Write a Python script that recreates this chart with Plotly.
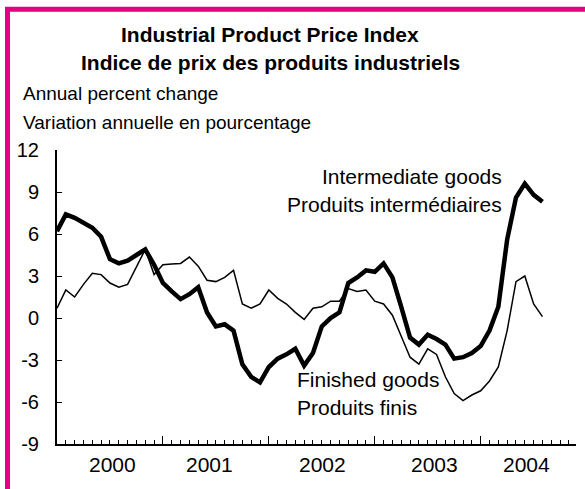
import plotly.graph_objects as go

# Monthly data, Jan 2000 (month 0) through Aug 2004 (month 55)
months = list(range(56))
intermediate = [
    6.2, 7.4, 7.15, 6.8, 6.45, 5.8, 4.2, 3.9, 4.1, 4.5,
    4.9, 3.8, 2.5, 1.9, 1.35, 1.7, 2.2, 0.4, -0.6, -0.45,
    -0.9, -3.3, -4.2, -4.6, -3.5, -2.9, -2.6, -2.2, -3.4, -2.5,
    -0.6, 0.0, 0.4, 2.5, 2.9, 3.4, 3.3, 3.9, 2.9, 0.8,
    -1.4, -1.9, -1.2, -1.5, -1.9, -2.9, -2.8, -2.5, -2.0, -0.9,
    0.8, 5.6, 8.6, 9.6, 8.8, 8.3,
]
finished = [
    0.7, 2.0, 1.5, 2.4, 3.2, 3.1, 2.5, 2.2, 2.4, 3.6,
    4.9, 3.1, 3.8, 3.85, 3.9, 4.35, 3.7, 2.7, 2.6, 2.9,
    3.4, 1.0, 0.7, 1.0, 2.0, 1.4, 1.0, 0.4, -0.1, 0.7,
    0.8, 1.2, 1.2, 2.1, 1.9, 2.0, 1.2, 1.0, 0.2, -1.3,
    -2.8, -3.3, -2.2, -2.6, -4.2, -5.4, -5.9, -5.5, -5.2, -4.5,
    -3.5, -0.9, 2.6, 3.0, 1.0, 0.1,
]
year_labels = ["2000", "2001", "2002", "2003", "2004"]
year_label_pos = [6.3, 17.3, 30.1, 42.8, 53.2]
year_bounds = [12, 24, 36, 48]
y_ticks = [-9, -6, -3, 0, 3, 6, 9, 12]
y_tick_text = ["-9", "-6", "-3", "0", "3", "6", "9", "12"]

W, H = 585, 489
L, R, T, B = 57, 9, 150, 45
PW, PH = W - L - R, H - T - B
FONT = "Liberation Sans, Arial, sans-serif"
PINK = "#E6007E"


def px(x):
    return (x - L) / PW


def py(y):
    return (H - B - y) / PH


fig = go.Figure()
fig.add_trace(go.Scatter(x=months, y=finished, mode="lines",
                         line=dict(color="black", width=1.5), showlegend=False))
fig.add_trace(go.Scatter(x=months, y=intermediate, mode="lines",
                         line=dict(color="black", width=4.5), showlegend=False))

fig.update_layout(
    width=W, height=H,
    margin=dict(l=L, r=R, t=T, b=B),
    paper_bgcolor="white", plot_bgcolor="white",
    font=dict(family=FONT, color="black", size=20),
    showlegend=False,
)
fig.update_xaxes(
    range=[0, 58.8], showgrid=False, zeroline=False,
    showline=True, linecolor="black", linewidth=2,
    tickmode="array", tickvals=year_bounds, ticks="inside", ticklen=8,
    tickwidth=1, tickcolor="black", showticklabels=False,
    minor=dict(tickmode="array", tickvals=list(range(1, 59)), ticks="inside",
               ticklen=4, tickwidth=1, tickcolor="black", showgrid=False),
)
fig.update_yaxes(
    range=[-9, 12], showgrid=False, zeroline=False,
    showline=True, linecolor="black", linewidth=2,
    tickmode="array", tickvals=y_ticks, ticktext=y_tick_text,
    ticks="inside", ticklen=5,
    tickwidth=1, tickcolor="black", ticklabelstandoff=12,
    tickfont=dict(size=20, family=FONT),
)

ann = []
def text(t, x, y, size, anchor, bold=False):
    ann.append(dict(text=("<b>%s</b>" % t) if bold else t, x=px(x), y=py(y),
                    xref="paper", yref="paper", xanchor=anchor, yanchor="middle",
                    showarrow=False, font=dict(size=size, family=FONT, color="black")))

text("Industrial Product Price Index", 270, 34.3, 21, "center", bold=True)
text("Indice de prix des produits industriels", 270, 62.6, 21, "center", bold=True)
text("Annual percent change", 21, 93.3, 19, "left")
text("Variation annuelle en pourcentage", 21, 122.5, 19, "left")
text("Intermediate goods", 504, 176.6, 21, "right")
text("Produits intermédiaires", 504, 204.6, 21, "right")
text("Finished goods", 295, 379.6, 21, "left")
text("Produits finis", 295, 407.6, 21, "left")
for lab, pos in zip(year_labels, year_label_pos):
    ann.append(dict(text=lab, x=pos, y=py(464.3), xref="x", yref="paper",
                    xanchor="center", yanchor="middle", showarrow=False,
                    font=dict(size=21, family=FONT, color="black")))
fig.update_layout(annotations=ann)

# magenta frame (extends beyond right and bottom edges)
fig.add_shape(type="rect", xref="paper", yref="paper",
              x0=px(7.5), x1=px(600), y0=py(9.2), y1=py(510),
              line=dict(color=PINK, width=5), fillcolor="rgba(0,0,0,0)", layer="below")

fig.write_html("out.html", config={"displayModeBar": False},
               post_script="document.body.style.margin='0px';")
